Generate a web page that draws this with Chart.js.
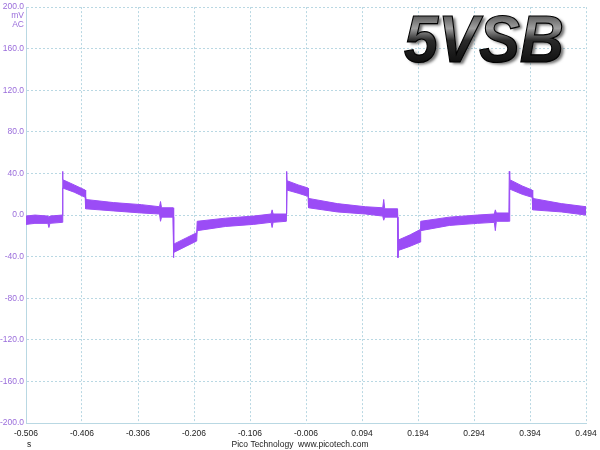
<!DOCTYPE html>
<html lang="en">
<head>
    <meta charset="UTF-8">
    <title>5VSB</title>
    <script src="https://cdn.jsdelivr.net/npm/chart.js"></script>
    <style>
        body {
            margin: 0;
            background-color: #ffffff;
        }

        #wrap {
            width: 600px;
            height: 450px;
        }
    </style>
</head>
<body>

<div id="wrap">
    <canvas id="scopeChart" width="600" height="450"></canvas>
</div>

<script>
    var times = [
        -0.506, -0.490, -0.4669, -0.4651, -0.4633, -0.4413, -0.4407, -0.4400, -0.420, -0.4003,
        -0.3995, -0.350, -0.300, -0.2676, -0.2658, -0.2640, -0.2435, -0.2427, -0.2420, -0.220,
        -0.2012, -0.2003, -0.150, -0.100, -0.0683, -0.0665, -0.0647, -0.0411, -0.0405, -0.0398,
        -0.020, -0.0024, -0.0015, 0.050, 0.100, 0.1310, 0.1328, 0.1346, 0.1575, 0.1582,
        0.1590, 0.180, 0.1978, 0.1988, 0.250, 0.300, 0.3303, 0.3321, 0.3339, 0.3563,
        0.3570, 0.3578, 0.380, 0.3979, 0.3988, 0.450, 0.494
    ];
    var upper = [
        -1, 0, -1, -2, -1, 0, 42, 34, 29, 24,
        15, 12, 10, 8, 13, 7, 7, 7, -28, -22,
        -17, -6, -3, -1, 1, 5, 1, 1, 42, 33,
        29, 26, 16, 11, 8, 7, 15, 6, 6, 6,
        -24, -19, -14, -6, -2, 0, 1, 5, 2, 2,
        42, 34, 28, 24, 16, 11, 8
    ];
    var lower = [
        -9, -8, -8, -12, -8, -7, -7, 26, 22, 17,
        6, 4, 2, 1, -6, -2, -2, -41, -36, -30,
        -25, -15, -11, -9, -7, -12, -7, -6, -6, 24,
        21, 18, 7, 3, 1, -1, -5, -2, -2, -41,
        -34, -30, -26, -15, -10, -8, -7, -15, -6, -6,
        -6, 25, 20, 17, 5, 3, 0
    ];

    var xTicks = [-0.506, -0.406, -0.306, -0.206, -0.106, -0.006, 0.094, 0.194, 0.294, 0.394, 0.494];
    var yMin = -200;
    var yMax = 200;
    var yStep = 40;

    var traceColor = '#9b4cf6';
    var labelPurple = '#9a6ddb';
    var gridColor = '#b9d8e3';
    var labelFont = {family: 'Liberation Sans, Arial, sans-serif', size: 8.5};

    function toPoints(vals) {
        return times.map(function (t, i) {
            return {x: t, y: vals[i]};
        });
    }

    // captions that sit outside the axes: units, footer and the big label
    var extras = {
        id: 'extras',
        afterDraw: function (chart) {
            var ctx = chart.ctx;
            ctx.save();
            ctx.font = '8.5px Liberation Sans, Arial, sans-serif';
            ctx.textBaseline = 'middle';

            ctx.fillStyle = labelPurple;
            ctx.textAlign = 'right';
            ctx.fillText('mV', 24, 16);
            ctx.fillText('AC', 24, 25);

            ctx.fillStyle = '#222222';
            ctx.textAlign = 'center';
            ctx.fillText('s', 29, 445);
            ctx.fillText('Pico Technology  www.picotech.com', 300, 445);

            // 5VSB
            ctx.font = 'italic bold 67px Liberation Sans, Arial, sans-serif';
            ctx.textAlign = 'left';
            ctx.textBaseline = 'alphabetic';
            var w = ctx.measureText('5VSB').width;
            ctx.translate(404, 62);
            ctx.scale(160 / w, 1);
            var g = ctx.createLinearGradient(0, -48, 0, 0);
            g.addColorStop(0, '#555555');
            g.addColorStop(0.3, '#a0a0a0');
            g.addColorStop(0.55, '#2a2a2a');
            g.addColorStop(1, '#111111');
            ctx.shadowColor = 'rgba(0, 0, 0, 0.55)';
            ctx.shadowOffsetX = 3;
            ctx.shadowOffsetY = 2;
            ctx.shadowBlur = 3;
            ctx.fillStyle = g;
            ctx.fillText('5VSB', 0, 0);
            ctx.shadowColor = 'transparent';
            ctx.lineWidth = 1.2;
            ctx.strokeStyle = '#000000';
            ctx.strokeText('5VSB', 0, 0);
            ctx.restore();
        }
    };

    var ctx = document.getElementById('scopeChart').getContext('2d');
    var scopeChart = new Chart(ctx, {
        type: 'line',
        data: {
            datasets: [{
                label: 'upper',
                data: toPoints(upper),
                borderColor: traceColor,
                borderWidth: 1,
                pointRadius: 0,
                fill: false
            }, {
                label: 'lower',
                data: toPoints(lower),
                borderColor: traceColor,
                backgroundColor: traceColor,
                borderWidth: 1,
                pointRadius: 0,
                fill: '-1'
            }]
        },
        options: {
            responsive: false,
            animation: false,
            layout: {
                padding: {top: 5, right: 14, left: 0, bottom: 0}
            },
            plugins: {
                legend: {display: false},
                tooltip: {enabled: false}
            },
            elements: {
                line: {tension: 0}
            },
            scales: {
                x: {
                    type: 'linear',
                    min: xTicks[0],
                    max: xTicks[xTicks.length - 1],
                    afterBuildTicks: function (scale) {
                        scale.ticks = xTicks.map(function (v) {
                            return {value: v};
                        });
                    },
                    afterFit: function (scale) {
                        scale.height = 27;
                        scale.paddingLeft = 0;
                        scale.paddingRight = 0;
                    },
                    grid: {
                        color: gridColor,
                        drawTicks: false
                    },
                    border: {
                        color: gridColor,
                        dash: [2, 2]
                    },
                    ticks: {
                        autoSkip: false,
                        maxRotation: 0,
                        padding: 6,
                        color: '#222222',
                        font: labelFont,
                        callback: function (value) {
                            return value.toFixed(3);
                        }
                    }
                },
                y: {
                    min: yMin,
                    max: yMax,
                    afterFit: function (scale) {
                        scale.width = 26;
                    },
                    grid: {
                        color: gridColor,
                        drawTicks: false
                    },
                    border: {
                        color: gridColor,
                        dash: [2, 2]
                    },
                    ticks: {
                        stepSize: yStep,
                        padding: 2,
                        color: labelPurple,
                        font: labelFont,
                        callback: function (value) {
                            return value.toFixed(1);
                        }
                    }
                }
            }
        },
        plugins: [extras]
    });
</script>

</body>
</html>
